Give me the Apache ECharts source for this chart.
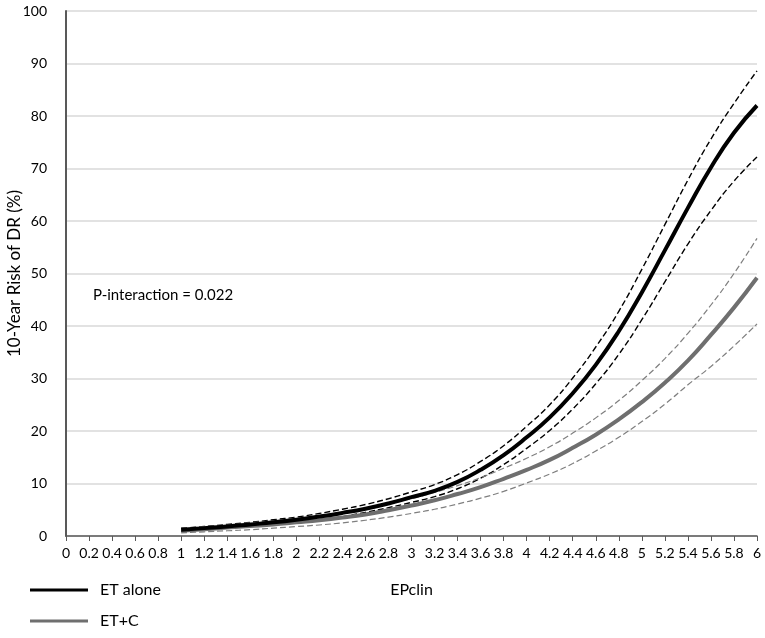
<!DOCTYPE html>
<html>
<head>
<meta charset="utf-8">
<script src="https://cdn.jsdelivr.net/npm/echarts@6/dist/echarts.min.js"></script>
<style>
html,body{margin:0;padding:0;background:#fff;}
#chart{width:765px;height:638px;}
</style>
</head>
<body>
<div id="chart"></div>
<script>
// EPclin values
const epclin = [1.0,1.2,1.4,1.6,1.8,2.0,2.2,2.4,2.6,2.8,3.0,3.2,3.4,3.6,3.8,4.0,4.2,4.4,4.6,4.8,5.0,5.2,5.4,5.6,5.8,6.0];
// ET alone
const etAlone      = [1.2,1.5,1.8,2.2,2.6,3.1,3.7,4.4,5.2,6.2,7.4,8.6,10.3,12.6,15.4,18.8,22.6,27.2,32.6,39.0,46.4,54.4,62.5,70.2,76.8,82.0];
const etAloneUpper = [1.5,1.8,2.2,2.6,3.1,3.6,4.3,5.1,6.0,7.1,8.4,9.8,11.7,14.2,17.2,20.9,25.0,30.1,36.0,42.8,50.8,59.3,67.8,75.6,82.4,88.6];
const etAloneLower = [0.9,1.2,1.5,1.8,2.2,2.6,3.1,3.7,4.5,5.4,6.4,7.5,9.0,11.0,13.6,16.7,20.1,24.2,29.0,34.6,41.2,48.4,55.6,62.0,67.6,72.2];
// ET+C
const etC      = [1.0,1.3,1.6,1.9,2.2,2.6,3.0,3.5,4.1,4.9,5.8,6.8,8.0,9.3,10.9,12.6,14.5,16.8,19.3,22.2,25.5,29.2,33.4,38.3,43.5,49.2];
const etCUpper = [1.5,1.8,2.1,2.5,2.9,3.4,3.9,4.5,5.2,6.1,7.1,8.3,9.6,11.1,12.9,14.8,17.0,19.6,22.5,25.8,29.6,33.8,38.6,44.0,50.0,56.7];
const etCLower = [0.6,0.8,1.0,1.2,1.5,1.8,2.1,2.5,3.0,3.6,4.3,5.1,6.1,7.2,8.5,10.1,11.8,13.8,16.2,18.8,21.8,25.1,28.8,32.3,36.2,40.4];

const xTicks = {min:0, max:6, step:0.2};
const yTicks = {min:0, max:100, step:10};
const annotation = 'P-interaction = 0.022';

const pair = arr => epclin.map((x,i)=>[x, arr[i]]);
const FONT = 'Lato';

const chart = echarts.init(document.getElementById('chart'));
const dashed = (name, arr, color, w) => ({
  name, type:'line', data:pair(arr), smooth:true, symbol:'none', silent:true,
  lineStyle:{color, width:w, type:[6,3]}, itemStyle:{color}, z:2
});
const solid = (name, arr, color) => ({
  name, type:'line', data:pair(arr), smooth:true, symbol:'none', silent:true,
  lineStyle:{color, width:4}, itemStyle:{color}, z:3
});

chart.setOption({
  animation:false,
  textStyle:{fontFamily:FONT},
  grid:{left:66, right:8, top:11, bottom:102, containLabel:false, outerBoundsMode:'none'},
  xAxis:{
    type:'value', min:xTicks.min, max:xTicks.max, interval:xTicks.step,
    name:'EPclin', nameLocation:'middle', nameGap:46, nameMoveOverlap:false,
    nameTextStyle:{fontSize:16, color:'#000', fontFamily:FONT},
    axisLine:{show:true, lineStyle:{color:'#595959', width:1.5}},
    axisTick:{show:true, length:5, lineStyle:{color:'#595959'}},
    axisLabel:{fontSize:14, color:'#000', margin:10, fontFamily:FONT,
      formatter:v=>String(+v.toFixed(1))},
    splitLine:{show:false}
  },
  yAxis:{
    type:'value', min:yTicks.min, max:yTicks.max, interval:yTicks.step,
    offset:5,
    name:'10-Year Risk of DR (%)', nameLocation:'middle', nameGap:38, nameMoveOverlap:false,
    nameTextStyle:{fontSize:17, color:'#000', fontFamily:FONT},
    axisLine:{show:true, lineStyle:{color:'#595959', width:2}},
    axisTick:{show:false},
    axisLabel:{fontSize:14, color:'#000', margin:14, fontFamily:FONT},
    splitLine:{show:true, lineStyle:{color:'#d9d9d9', width:1.5}}
  },
  legend:{
    data:['ET alone','ET+C'], orient:'vertical', left:30, top:582, padding:0,
    itemWidth:58, itemHeight:3, itemGap:15, icon:'rect',
    textStyle:{fontSize:16, color:'#000', fontFamily:FONT, padding:[0,0,0,7]}
  },
  graphic:[{
    type:'text', left:93, top:288,
    style:{text:annotation, fontSize:15, fill:'#000', fontFamily:FONT}
  }],
  series:[
    dashed('ET alone upper', etAloneUpper, '#000', 1.4),
    dashed('ET alone lower', etAloneLower, '#000', 1.4),
    dashed('ET+C upper', etCUpper, '#7f7f7f', 1.2),
    dashed('ET+C lower', etCLower, '#7f7f7f', 1.2),
    solid('ET+C', etC, '#6f6f6f'),
    solid('ET alone', etAlone, '#000')
  ]
});
</script>
</body>
</html>
